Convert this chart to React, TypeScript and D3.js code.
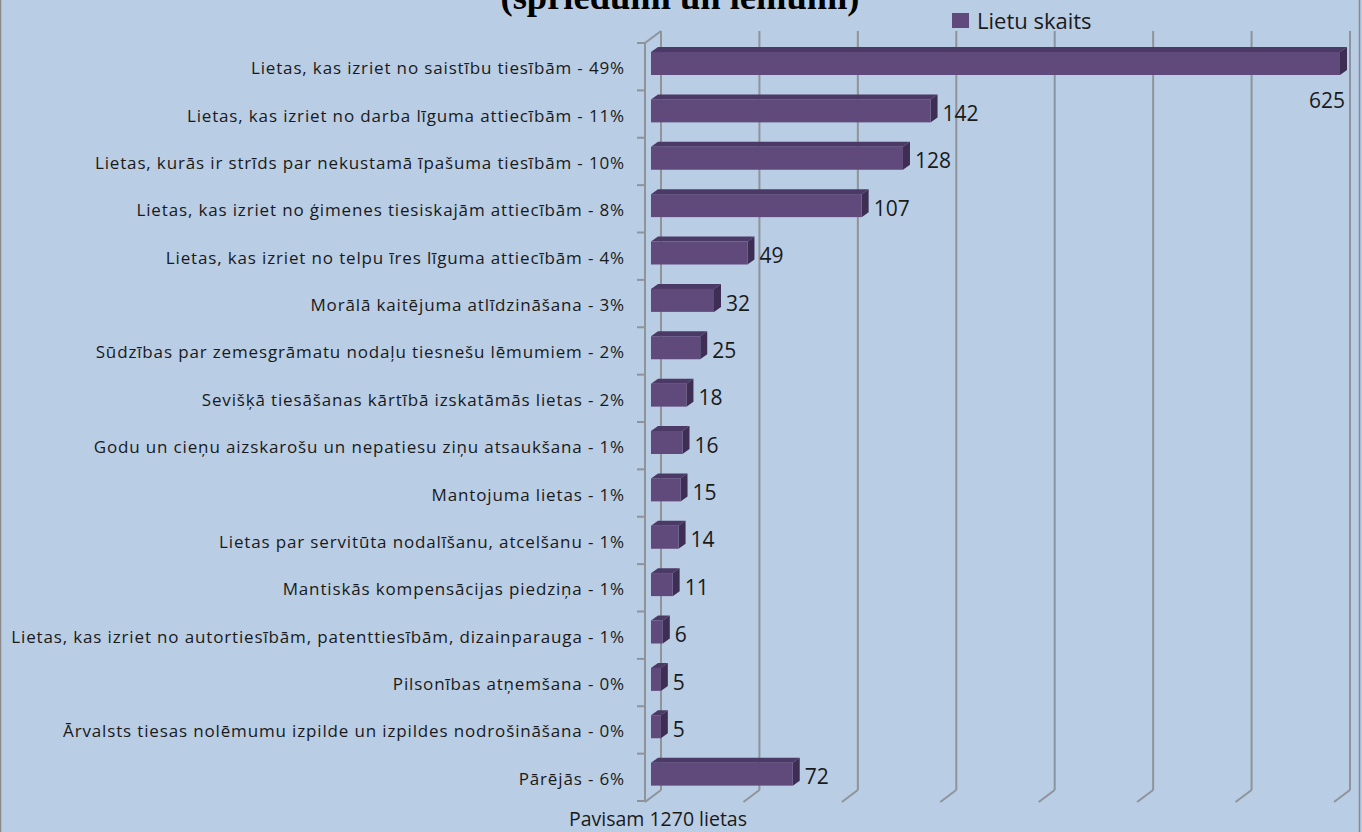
import React from "react";
import * as d3 from "d3";

const categories = [
  "Lietas, kas izriet no saistību tiesībām - 49%",
  "Lietas, kas izriet no darba līguma attiecībām - 11%",
  "Lietas, kurās ir strīds par nekustamā īpašuma tiesībām - 10%",
  "Lietas, kas izriet no ģimenes tiesiskajām attiecībām - 8%",
  "Lietas, kas izriet no telpu īres līguma attiecībām - 4%",
  "Morālā kaitējuma atlīdzināšana - 3%",
  "Sūdzības par zemesgrāmatu nodaļu tiesnešu lēmumiem - 2%",
  "Sevišķā tiesāšanas kārtībā izskatāmās lietas - 2%",
  "Godu un cieņu aizskarošu un nepatiesu ziņu atsaukšana - 1%",
  "Mantojuma lietas - 1%",
  "Lietas par servitūta nodalīšanu, atcelšanu - 1%",
  "Mantiskās kompensācijas piedziņa - 1%",
  "Lietas, kas izriet no autortiesībām, patenttiesībām, dizainparauga - 1%",
  "Pilsonības atņemšana - 0%",
  "Ārvalsts tiesas nolēmumu izpilde un izpildes nodrošināšana - 0%",
  "Pārējās - 6%",
];
const values = [625, 142, 128, 107, 49, 32, 25, 18, 16, 15, 14, 11, 6, 5, 5, 72];
const gridTicks = [0, 50, 100, 150, 200, 250, 300, 350];
const axisMax = 350;
const titleText = "(spriedumi un lēmumi)";
const legendText = "Lietu skaits";
const axisTitle = "Pavisam 1270 lietas";

const W = 1362;
const H = 832;
const BG = "#b9cde5";
const GRID = "#8f949a";
const FRONT = "#5f4a7b";
const TOP = "#4c3a66";
const SIDE = "#3e2e54";
const FONT = "'Open Sans', sans-serif";

export default function App() {
  const x = d3.scaleLinear().domain([0, axisMax]).range([651, 1340]);
  const y = d3.scaleBand<string>().domain(categories).range([43, 801]).padding(0);
  const bw = y.bandwidth();
  const depthX = 7, depthY = 5;
  const backDX = 10, backTop = 31, backBottom = 790;
  const floorDX = -6, floorY = 802;
  const wallX = x(0) + floorDX;

  return (
    <div style={{ position: "fixed", left: 0, top: 0, width: W, height: H }}>
      <svg width={W} height={H} style={{ display: "block" }}>
        <rect x={0} y={0} width={W} height={H} fill={BG} />
        <line x1={0.5} y1={0} x2={0.5} y2={H} stroke="#8a8a8a" strokeWidth={1.5} />
        <line x1={1359.5} y1={0} x2={1359.5} y2={H} stroke="#8a8a8a" strokeWidth={1.5} />

        {/* back wall gridlines and floor lines */}
        {gridTicks.map((t) => (
          <g key={t}>
            <line x1={x(t) + backDX} y1={backTop} x2={x(t) + backDX} y2={backBottom} stroke={GRID} strokeWidth={2} />
            <line x1={x(t) + backDX} y1={backBottom} x2={x(t) + floorDX} y2={floorY} stroke={GRID} strokeWidth={2} />
          </g>
        ))}
        {/* left wall */}
        <line x1={wallX} y1={43} x2={wallX} y2={floorY} stroke={GRID} strokeWidth={2} />
        <line x1={wallX} y1={43} x2={x(0) + backDX} y2={backTop} stroke={GRID} strokeWidth={2} />
        {d3.range(categories.length + 1).map((i) => {
          const yy = 43 + i * bw;
          return <line key={i} x1={wallX - 8} y1={yy} x2={wallX} y2={yy} stroke={GRID} strokeWidth={2} />;
        })}

        {/* bars */}
        {categories.map((c, i) => {
          const v = Math.min(values[i], axisMax);
          const x0 = x(0);
          const x1 = x(v);
          const yt = (y(c) as number) + 9;
          const yb = yt + 23;
          const clipped = values[i] > axisMax;
          return (
            <g key={c}>
              <polygon
                points={`${x0},${yt} ${x1},${yt} ${x1 + depthX},${yt - depthY} ${x0 + depthX},${yt - depthY}`}
                fill={TOP}
              />
              <polygon
                points={`${x1},${yt} ${x1 + depthX},${yt - depthY} ${x1 + depthX},${yb - depthY} ${x1},${yb}`}
                fill={SIDE}
              />
              <rect x={x0} y={yt} width={x1 - x0} height={yb - yt} fill={FRONT} />
              {clipped ? (
                <text x={x1 + 5} y={(y(c) as number) + bw + 10} textAnchor="end" dominantBaseline="central"
                  fontFamily={FONT} fontSize={21} fill="#1a1a1a">{values[i]}</text>
              ) : (
                <text x={x1 + depthX + 5} y={(y(c) as number) + bw / 2 - 1} dominantBaseline="central"
                  fontFamily={FONT} fontSize={21} fill="#1a1a1a">{values[i]}</text>
              )}
              <text x={625} y={(y(c) as number) + bw / 2 + 1} textAnchor="end" dominantBaseline="central"
                fontFamily={FONT} fontSize={17} letterSpacing={0.85} fill="#1a1a1a">{c}</text>
            </g>
          );
        })}

        {/* title */}
        <text x={680} y={9} textAnchor="middle" fontFamily="'Liberation Serif', serif" fontWeight="bold"
          fontSize={36.5} fill="#000">{titleText}</text>

        {/* legend */}
        <rect x={952} y={13} width={17} height={15} fill={FRONT} />
        <text x={977} y={20} dominantBaseline="central" fontFamily={FONT} fontSize={22} fill="#1a1a1a">{legendText}</text>

        {/* axis title */}
        <text x={658} y={818} textAnchor="middle" dominantBaseline="central" fontFamily={FONT} fontSize={19.5}
          fill="#1a1a1a">{axisTitle}</text>
      </svg>
    </div>
  );
}
